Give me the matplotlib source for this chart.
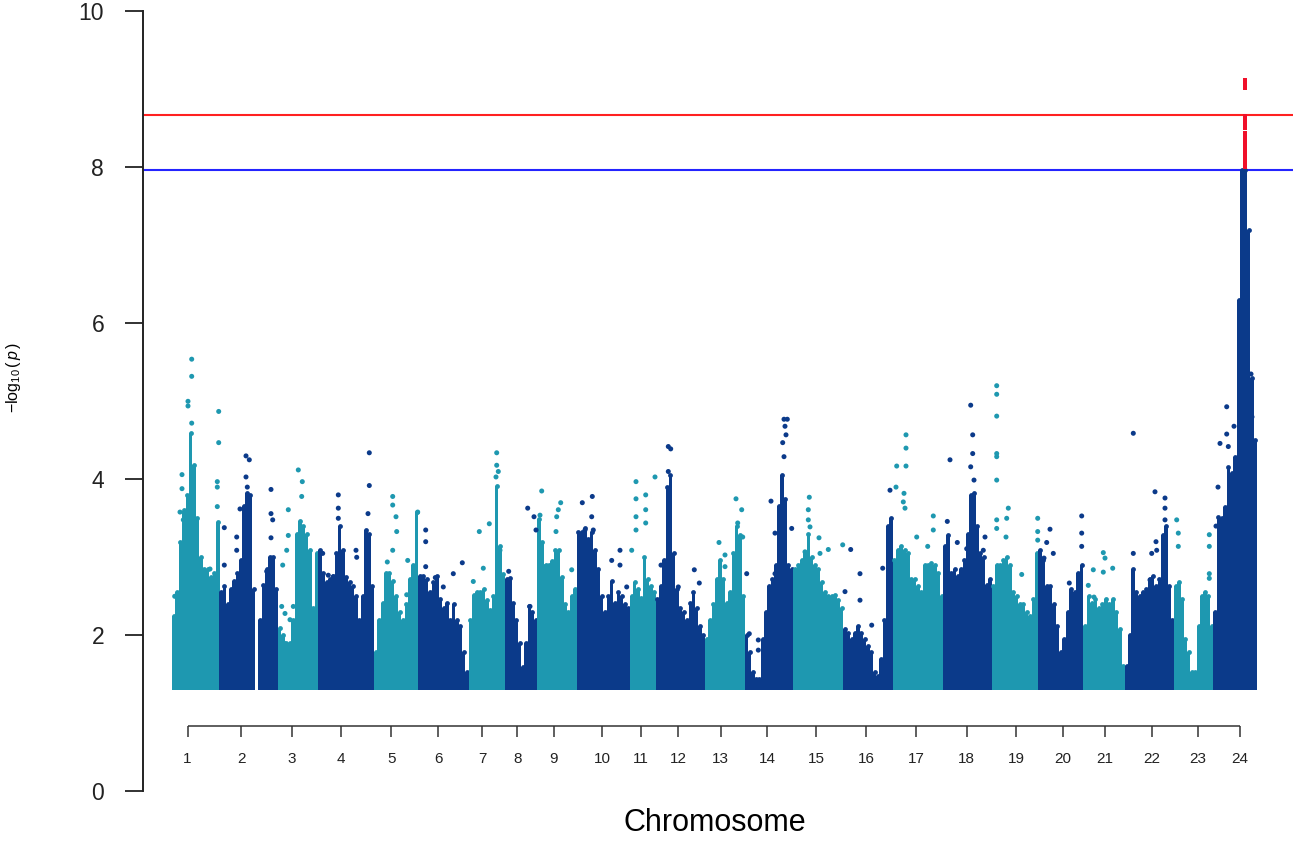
import numpy as np
import matplotlib.pyplot as plt

plt.rcParams['font.family'] = ['Liberation Sans', 'DejaVu Sans']
plt.rcParams['mathtext.fontset'] = 'custom'
plt.rcParams['mathtext.rm'] = 'Liberation Sans'
plt.rcParams['mathtext.it'] = 'Liberation Sans:italic'

LIGHT = '#1e98b0'
DARK = '#0b3a8a'

# chromosome spans on the cumulative position axis
chrom_bounds = [172.0, 219.5, 278.0, 318.5, 374.0, 418.3, 468.7, 505.0, 537.3,
                576.7, 630.0, 655.7, 705.0, 745.0, 793.3, 843.3, 892.7, 943.3,
                991.7, 1038.3, 1083.3, 1125.0, 1174.0, 1213.3, 1257.0]
tick_pos = [187.6, 241.0, 291.7, 340.7, 391.3, 438.1, 482.0, 517.3, 553.8, 602.0,
            641.0, 678.0, 720.8, 766.9, 816.0, 866.2, 916.4, 966.5, 1016.0,
            1062.5, 1105.2, 1151.7, 1198.0, 1239.8]
tick_labels = [str(i) for i in range(1, 25)]

# top of the dense band of SNPs along each chromosome (-log10 p)
band_tops = [
    [2.25, 2.55, 3.2, 3.6, 3.8, 4.6, 4.18, 3.5, 3.0, 2.85, 2.85, 2.75, 2.8, 3.45],
    [2.55, 2.63, 2.4, 2.6, 2.7, 2.8, 2.97, 3.66, 3.83, 3.8, 2.6, 1.3, 2.2, 2.65, 2.85, 3.0, 3.0, 2.6],
    [2.1, 2.0, 1.9, 1.9, 2.2, 3.3, 3.47, 3.4, 3.3, 3.1, 2.35, 3.06],
    [3.1, 2.8, 2.68, 2.72, 2.76, 3.06, 3.4, 3.1, 2.75, 2.68, 2.63, 2.5, 2.2, 2.5, 3.35, 3.3, 2.63],
    [1.78, 2.2, 2.42, 2.8, 2.8, 2.7, 2.5, 2.3, 2.2, 2.4, 2.72, 2.9, 3.58],
    [2.76, 2.76, 2.72, 2.55, 2.68, 2.76, 2.46, 2.35, 2.42, 2.2, 2.4, 2.2, 2.12, 1.78, 1.53],
    [2.2, 2.52, 2.55, 2.55, 2.6, 2.45, 2.32, 2.5, 3.92, 3.15, 2.78],
    [2.72, 2.74, 2.42, 2.2, 1.9, 1.6, 1.9, 2.38, 2.3, 2.2],
    [3.49, 3.2, 2.9, 2.9, 2.95, 3.1, 3.1, 2.75, 2.4, 2.3, 2.5, 2.6],
    [3.32, 3.32, 3.37, 3.23, 3.32, 3.1, 2.85, 2.5, 2.3, 2.5, 2.7, 2.42, 2.55, 2.5, 2.4, 2.35],
    [2.5, 2.68, 2.6, 2.48, 3.0, 2.72, 2.63, 2.55],
    [2.46, 2.63, 2.97, 3.9, 4.05, 3.06, 2.59, 2.35, 2.3, 2.2, 2.42, 2.55, 2.35, 2.12, 2.0],
    [1.95, 2.2, 2.4, 2.72, 2.97, 2.72, 2.42, 2.55, 3.06, 3.4, 3.28, 2.5],
    [2.0, 1.78, 1.53, 1.44, 1.44, 1.95, 2.3, 2.63, 2.72, 2.9, 3.66, 4.05, 3.75, 2.9, 2.85],
    [2.85, 2.9, 2.97, 3.06, 3.3, 3.0, 2.9, 2.85, 2.68, 2.55, 2.5, 2.5, 2.52, 2.45, 2.35],
    [2.08, 2.03, 1.95, 2.03, 2.12, 2.03, 1.95, 1.86, 1.78, 1.53, 1.48, 1.7, 2.2, 3.4, 3.5],
    [2.97, 3.1, 3.15, 3.1, 3.06, 2.72, 2.72, 2.63, 2.55, 2.9, 2.9, 2.93, 2.9, 2.8, 2.5],
    [3.15, 3.28, 2.8, 2.85, 2.76, 2.85, 2.97, 3.3, 3.8, 3.83, 3.4, 3.06, 3.0, 2.65, 2.72],
    [2.63, 2.9, 2.9, 2.97, 3.01, 2.9, 2.55, 2.5, 2.4, 2.4, 2.3, 2.25, 2.46, 3.06],
    [3.1, 2.97, 2.63, 2.63, 2.4, 2.12, 1.78, 1.95, 2.3, 2.59, 2.55, 2.8, 2.9],
    [2.12, 2.5, 2.42, 2.46, 2.35, 2.4, 2.46, 2.4, 2.46, 2.3, 2.08, 1.61],
    [1.61, 2.0, 2.85, 2.55, 2.5, 2.55, 2.59, 2.72, 2.76, 2.63, 2.72, 3.28, 3.4, 2.63, 2.2],
    [2.63, 2.68, 2.46, 1.95, 1.78, 1.53, 1.53, 2.12, 2.5, 2.55, 2.5, 2.12],
    [2.3, 3.52, 3.5, 3.65, 4.16, 4.08, 4.29, 6.3, 7.97, 7.97, 7.2, 5.3, 4.5],
]

# isolated SNPs standing above the band
snp_pos = [191.7, 191.7, 188.0, 188.0, 191.7, 182.0, 182.0, 218.7, 218.7, 217.3, 217.3, 217.3,
           205.0, 210.0, 180.0, 183.3, 174.7,
           246.0, 249.3, 246.0, 247.3, 240.0, 236.7, 236.7, 224.3, 224.3, 271.0, 271.0, 272.7,
           271.0, 266.7,
           298.3, 302.3, 301.7, 288.3, 288.3, 286.7, 282.7, 281.7, 285.0, 290.0, 293.3, 284.0, 291.7,
           338.3, 338.3, 338.3, 369.3, 369.3, 368.0, 356.0, 356.7, 333.3, 328.3, 322.7,
           392.7, 392.7, 396.0, 396.7, 392.7, 387.3, 407.7, 417.7, 406.7,
           425.7, 425.7, 425.7, 462.3, 453.3, 435.3, 443.3,
           496.7, 496.7, 498.3, 496.0, 489.3, 479.3, 483.3, 473.3, 500.0,
           508.7, 527.7, 534.0, 536.0, 530.0,
           541.7, 560.7, 558.3, 556.7, 556.0, 540.0, 571.7, 545.0,
           582.3, 592.3, 591.7, 593.3, 620.0, 611.7, 620.0, 626.7, 585.0,
           636.0, 636.0, 636.0, 636.0, 645.7, 645.7, 645.7, 655.0, 631.7,
           668.3, 670.7, 668.3, 661.0, 694.3, 699.3, 678.3,
           736.0, 741.7, 737.7, 719.0, 725.0, 725.0, 742.7,
           784.0, 787.3, 785.0, 786.0, 782.7, 784.0, 771.0, 775.0, 791.7, 775.0, 746.7, 758.3,
           758.3, 749.3,
           809.3, 808.3, 808.3, 810.0, 819.0, 828.3, 842.7, 820.0, 805.0, 816.7,
           850.7, 860.0, 860.0, 845.0, 871.7, 882.7, 890.0,
           906.0, 906.0, 896.7, 906.0, 904.0, 896.0, 903.3, 905.0, 933.3, 933.3, 927.7, 916.7,
           970.7, 972.7, 972.7, 970.7, 974.0, 950.0, 947.3, 957.3, 966.7, 985.0, 983.3,
           996.7, 996.7, 996.7, 996.7, 996.7, 996.7, 996.7, 996.7, 1006.7, 1008.3, 1006.0,
           1021.7, 1037.7, 1037.7, 1037.7,
           1081.7, 1081.7, 1081.7, 1050.0, 1046.7, 1044.0, 1069.3, 1053.3,
           1103.3, 1105.0, 1112.7, 1093.3, 1088.3, 1103.3, 1094.0,
           1133.3, 1133.3, 1155.0, 1165.0, 1165.0, 1165.0, 1156.0, 1151.7, 1156.7, 1150.0,
           1176.7, 1178.3, 1178.3, 1209.3, 1209.3, 1209.3, 1209.3,
           1226.7, 1234.0, 1226.7, 1220.0, 1228.3, 1251.0, 1252.0, 1218.0, 1216.0]
snp_val = [5.54, 5.32, 5.0, 4.94, 4.72, 4.06, 3.88, 4.87, 4.47, 3.97, 3.9, 3.65,
           2.62, 2.85, 3.58, 3.48, 2.5,
           4.30, 4.25, 4.03, 3.90, 3.62, 3.26, 3.09, 3.38, 2.90, 3.87, 3.56, 3.48,
           3.25, 2.82,
           4.12, 3.97, 3.78, 3.61, 3.28, 3.09, 2.90, 2.37, 2.28, 2.2, 2.37, 1.9, 1.47,
           3.80, 3.63, 3.5, 4.34, 3.92, 3.56, 3.09, 3.0, 2.75, 2.77, 3.05,
           3.78, 3.67, 3.52, 3.33, 3.09, 2.94, 2.96, 3.58, 2.52,
           3.35, 3.2, 2.88, 2.93, 2.79, 2.74, 2.62,
           4.34, 4.18, 4.1, 4.03, 3.43, 3.33, 2.86, 2.69, 3.09,
           2.82, 3.63, 3.52, 3.35, 2.37,
           3.85, 3.70, 3.61, 3.52, 3.33, 3.54, 2.84, 2.88,
           3.70, 3.78, 3.52, 3.35, 3.09, 2.96, 2.90, 2.62, 3.35,
           3.97, 3.75, 3.52, 3.35, 3.80, 3.61, 3.44, 4.03, 3.09,
           4.42, 4.39, 4.10, 2.90, 2.84, 2.67, 2.62,
           3.75, 3.61, 3.44, 3.19, 3.03, 2.88, 3.26,
           4.77, 4.77, 4.68, 4.57, 4.47, 4.29, 3.72, 3.31, 3.37, 2.79, 2.79, 1.94,
           1.81, 2.02,
           3.77, 3.61, 3.48, 3.39, 3.25, 3.10, 3.16, 3.05, 3.07, 2.79,
           3.10, 2.79, 2.45, 2.56, 2.13, 2.86, 3.86,
           4.57, 4.40, 4.17, 4.17, 3.82, 3.90, 3.71, 3.63, 3.53, 3.35, 3.14, 3.26,
           4.95, 4.57, 4.33, 4.16, 3.99, 4.25, 3.46, 3.19, 3.11, 3.26, 3.09,
           5.20, 5.09, 4.81, 4.33, 4.29, 3.99, 3.48, 3.37, 3.5, 3.63, 3.26,
           2.78, 3.5, 3.33, 3.22,
           3.53, 3.31, 3.14, 3.36, 3.19, 2.99, 2.67, 3.05,
           3.06, 2.99, 2.86, 2.84, 2.64, 2.81, 2.49,
           4.59, 3.05, 3.84, 3.76, 3.63, 3.48, 3.20, 3.05, 3.09, 2.71,
           3.48, 3.31, 3.14, 3.29, 3.14, 2.79, 2.73,
           4.93, 4.68, 4.58, 4.46, 4.42, 5.35, 4.8, 3.9, 3.4]

# genome-wide significant SNPs on chromosome 24
hit_pos = 1245.0
hit_val = [9.12, 9.07, 9.02, 8.66, 8.62, 8.58, 8.54, 8.5, 8.44, 8.4, 8.36, 8.32,
           8.28, 8.24, 8.2, 8.16, 8.12, 8.08, 8.04, 8.0]

floor_val = 1.3
red_thr = 8.67
blue_thr = 7.97


def chrom_color(i):
    return LIGHT if i % 2 == 0 else DARK


fig = plt.figure(figsize=(12.99, 8.43), dpi=100)
ax = fig.add_axes([142.7 / 1299, 51.7 / 843, 1150.3 / 1299, 780 / 843])

for i, tops in enumerate(band_tops):
    edges = np.linspace(chrom_bounds[i], chrom_bounds[i + 1], len(tops) + 1)
    w = edges[1] - edges[0]
    centers = edges[:-1] + w / 2
    tops = np.array(tops)
    ax.bar(centers, tops - floor_val, bottom=floor_val, width=w * 1.03,
           color=chrom_color(i), linewidth=0, zorder=2)
    # round off the top of the band so it reads as stacked points
    keep = tops > floor_val
    ax.scatter(centers[keep], tops[keep], s=12, color=chrom_color(i),
               linewidths=0, zorder=2)

snp_chrom = np.searchsorted(chrom_bounds, snp_pos) - 1
ax.scatter(snp_pos, snp_val, s=13, c=[chrom_color(c) for c in snp_chrom],
           linewidths=0, zorder=3)
ax.scatter([hit_pos] * len(hit_val), hit_val, s=11, marker='s', c='#f0102a',
           linewidths=0, zorder=4)

ax.axhline(red_thr, color='#ff2020', lw=1.5, zorder=1)
ax.axhline(blue_thr, color='#2424ff', lw=1.5, zorder=1)

# chromosome axis drawn inside the plot region, as in the original R figure
ax.hlines(0.84, tick_pos[0], tick_pos[-1], color='#333333', lw=1.1)
ax.vlines(tick_pos, 0.70, 0.84, color='#333333', lw=1.1)
for p, lab in zip(tick_pos, tick_labels):
    ax.text(p, 0.42, lab, ha='center', va='center', fontsize=11, color='#222222')

ax.set_xlim(142.7, 1293)
ax.set_ylim(0, 10)
ax.set_xticks([])
ax.set_yticks([0, 2, 4, 6, 8, 10])
ax.tick_params(axis='y', length=12.7, width=1.3, pad=15, labelsize=16.5,
               colors='#222222')
for side in ['top', 'right', 'bottom']:
    ax.spines[side].set_visible(False)
ax.spines['left'].set_linewidth(1.4)
ax.spines['left'].set_color('#222222')

ax.set_xlabel('Chromosome', fontsize=22)
ax.xaxis.set_label_coords(0.4975, -0.022)
ax.set_ylabel(r'$-\log_{10}(\,\mathit{p}\,)$', fontsize=11.5)
ax.yaxis.set_label_coords(-0.104, 0.531)

fig.savefig('out.png', dpi=100)
